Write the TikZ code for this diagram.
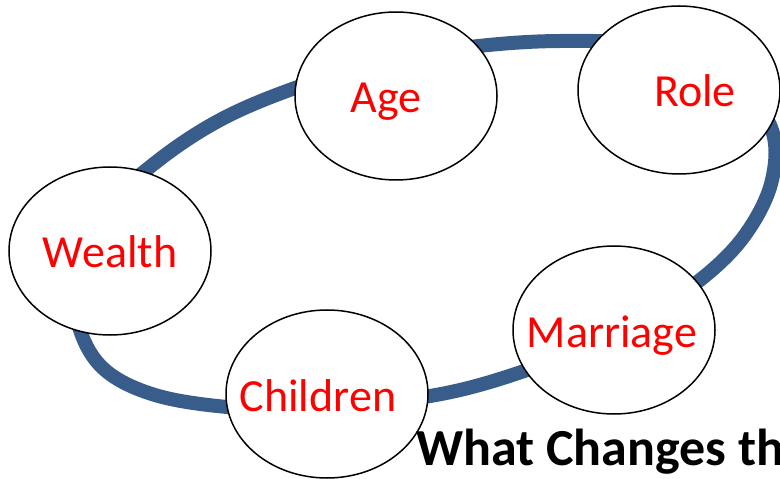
\documentclass[tikz,border=0pt]{standalone}
\usepackage{fontspec}
\setmainfont{Carlito}
\usepackage{xcolor}
\usepackage{tikz}
\usetikzlibrary{shapes.geometric, positioning}
\definecolor{azul}{HTML}{385D8A}
\definecolor{rojo}{HTML}{FF0000}
\tikzset{
  burbuja/.style={ellipse, draw=black, line width=1.5bp, fill=white,
    minimum width=202bp, minimum height=168bp, inner sep=0pt,
    text=rojo, font=\fontsize{46bp}{55bp}\selectfont},
  anillo/.style={azul, line width=14bp},
  titulo/.style={font=\bfseries\fontsize{52bp}{62bp}\selectfont,
    anchor=base west, inner sep=0pt}
}

\begin{document}
\begin{tikzpicture}[x=1bp, y=-1bp]
  \clip (0,0) rectangle (780,479);
  \useasboundingbox (0,0) rectangle (780,479);

  % --- Anillo ---
  \draw[anillo] plot[smooth cycle, tension=0.6] coordinates {
    (220,120) (295,88) (380,62) (470,47) (560,41) (650,46) (725,75)
    (770,125) (772,180) (745,235) (700,280) (640,318) (580,348)
    (527,370) (460,390) (390,402) (310,410) (227,407) (155,395)
    (105,370) (80,330) (75,280) (100,215) (155,163)};

  % --- Burbujas (nombre/x/y/desplazamiento/texto) ---
  \foreach \nombre/\x/\y/\dx/\texto in {edad/396/96/-20/Age,
      rol/679/90/32/Role, riqueza/110/251/0/Wealth,
      hijos/327/394/-18/Children, matrimonio/614/330/-4/Marriage} {
    \node[burbuja] (\nombre) at (\x,\y)
      {\makebox[0pt]{\kern\dx bp\raisebox{-17bp}[0pt][0pt]{\texto}}};
  }

  % --- Titulo (cortado en el borde) ---
  \node[titulo] (pregunta) at (416,465) {What Changes th};

\end{tikzpicture}
\end{document}
